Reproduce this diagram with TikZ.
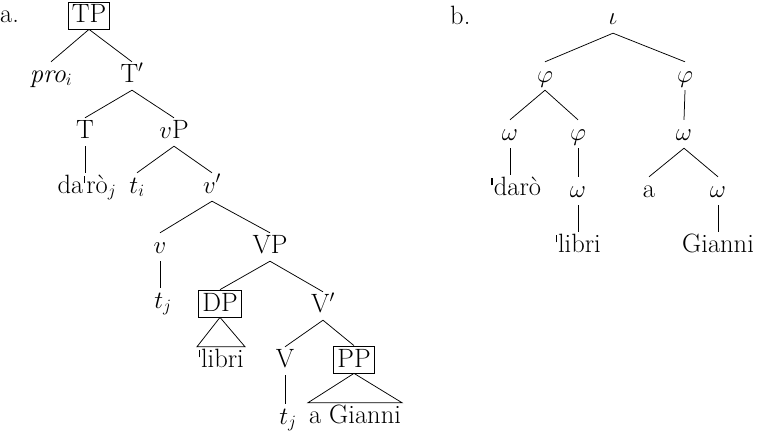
\documentclass[tikz,border=0pt]{standalone}
\usepackage{fontspec}
\newcommand{\strs}{\kern0.02em\rule[0.36em]{0.05em}{0.3em}\kern0.04em}
\begin{document}
\begin{tikzpicture}[x=1pt,y=-1pt,
  every node/.style={font=\fontsize{26.5}{31}\selectfont},
  lbl/.style={anchor=base, text height=17pt, text depth=5pt, inner xsep=1pt, inner ysep=3pt},
  boxed/.style={anchor=base, draw, line width=0.75pt, text height=17pt, text depth=2pt, inner xsep=3.5pt, inner ysep=4pt},
  edge/.style={line width=0.75pt}]
\useasboundingbox (0,0) rectangle (759,436);
% ---------- tree a ----------
\node[anchor=base west, inner sep=0pt] (la) at (0,23) {a.};
\node[boxed] (TP) at (89,23) {TP};
\node[lbl] (pro) at (51,82) {\textit{pro}$_i$};
\node[lbl] (Tb) at (132,82) {T$'$};
\node[lbl] (T) at (85,138) {T};
\node[lbl] (vP) at (174,138) {$v$P};
\node[lbl] (daro) at (87,193) {da\strs rò$_j$};
\node[lbl] (ti) at (137,193) {$t_i$};
\node[lbl] (vb) at (212,193) {$v'$};
\node[lbl] (v) at (160,253) {$v$};
\node[lbl] (VP) at (270,253) {VP};
\node[lbl] (tj1) at (163,308) {$t_j$};
\node[boxed] (DP) at (220,311) {DP};
\node[lbl] (Vb) at (323,312) {V$'$};
\node[lbl] (libri1) at (221,367) {\strs libri};
\node[lbl] (V) at (285,367) {V};
\node[boxed] (PP) at (354,367) {PP};
\node[lbl] (tj2) at (288,424) {$t_j$};
\node[lbl] (aG) at (355,423) {a Gianni};

\draw[edge] (TP.south) -- (pro.north);
\draw[edge] (TP.south) -- (Tb.north);
\draw[edge] (Tb.south) -- (T.north);
\draw[edge] (Tb.south) -- (vP.north);
\draw[edge] (T.south) -- (T.south |- daro.north);
\draw[edge] (vP.south) -- (ti.north);
\draw[edge] (vP.south) -- (vb.north);
\draw[edge] (vb.south) -- (v.north);
\draw[edge] (vb.south) -- (VP.north);
\draw[edge] (v.south) -- (v.south |- tj1.north);
\draw[edge] (VP.south) -- (DP.north);
\draw[edge] (VP.south) -- (Vb.north);
\draw[edge] (DP.south) -- (libri1.north west) -- (libri1.north east) -- cycle;
\draw[edge] (Vb.south) -- (V.north);
\draw[edge] (Vb.south) -- (PP.north);
\draw[edge] (V.south) -- (V.south |- tj2.north);
\draw[edge] (PP.south) -- (aG.north west) -- (aG.north east) -- cycle;

% ---------- tree b ----------
\node[anchor=base west, inner sep=0pt] (lb) at (450,25) {b.};
\node[lbl] (iota) at (613,25) {$\iota$};
\node[lbl] (phiL) at (545,82) {$\varphi$};
\node[lbl] (phiR) at (685,82) {$\varphi$};
\node[lbl] (omL) at (510,140) {$\omega$};
\node[lbl] (phiM) at (578,140) {$\varphi$};
\node[lbl] (omR) at (684,140) {$\omega$};
\node[lbl] (darob) at (516,195) {\strs darò};
\node[lbl] (omM) at (578,197) {$\omega$};
\node[lbl] (a) at (649,197) {a};
\node[lbl] (omG) at (718,197) {$\omega$};
\node[lbl] (libri2) at (578,252) {\strs libri};
\node[lbl] (Gianni) at (718,252) {Gianni};

\draw[edge] (iota.south) -- (phiL.north);
\draw[edge] (iota.south) -- (phiR.north);
\draw[edge] (phiL.south) -- (omL.north);
\draw[edge] (phiL.south) -- (phiM.north);
\draw[edge] (phiR.south) -- (omR.north);
\draw[edge] (omL.south) -- (omL.south |- darob.north);
\draw[edge] (phiM.south) -- (omM.north);
\draw[edge] (omR.south) -- (a.north);
\draw[edge] (omR.south) -- (omG.north);
\draw[edge] (omM.south) -- (libri2.north);
\draw[edge] (omG.south) -- (Gianni.north);
\end{tikzpicture}
\end{document}
